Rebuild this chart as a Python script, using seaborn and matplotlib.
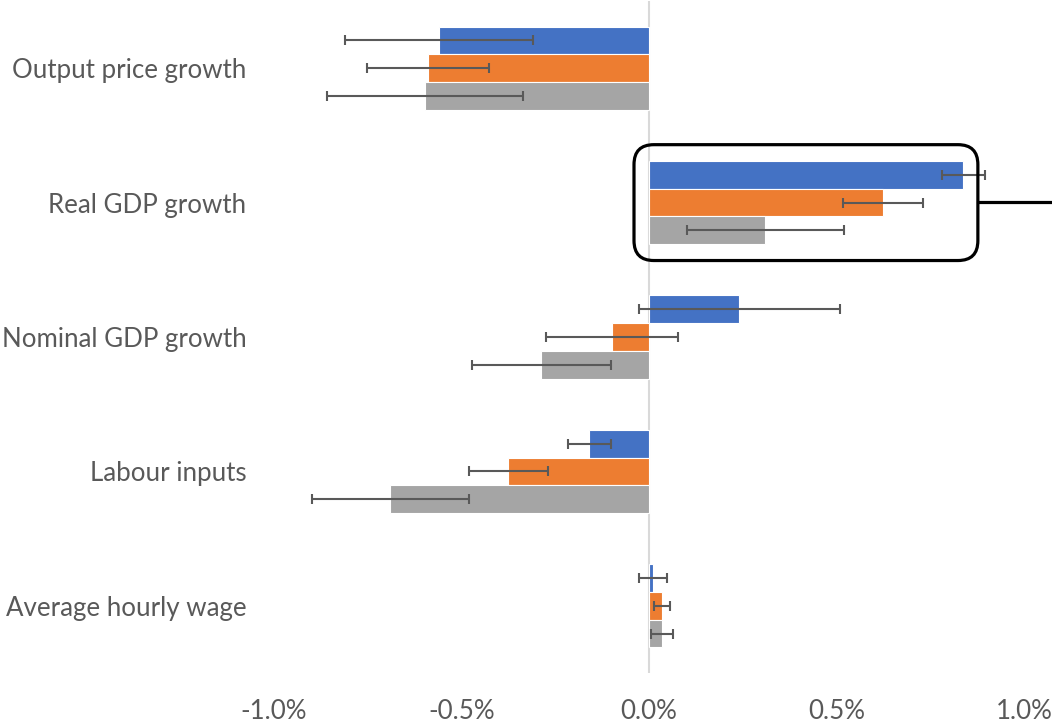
import numpy as np
import pandas as pd
import seaborn as sns
import matplotlib.pyplot as plt
from matplotlib.patches import FancyBboxPatch
from matplotlib.lines import Line2D
from matplotlib.ticker import FuncFormatter

categories = ['Output price growth', 'Real GDP growth', 'Nominal GDP growth',
              'Labour inputs', 'Average hourly wage']
series = ['Series 1', 'Series 2', 'Series 3']

# values in percent
s1_values = [-0.56, 0.838, 0.241, -0.159, 0.01]
s2_values = [-0.59, 0.624, -0.099, -0.375, 0.035]
s3_values = [-0.597, 0.31, -0.287, -0.69, 0.035]

s1_err = [0.25, 0.057, 0.268, 0.058, 0.037]
s2_err = [0.163, 0.107, 0.176, 0.105, 0.021]
s3_err = [0.262, 0.21, 0.186, 0.21, 0.03]

colors = ['#4472C4', '#ED7D31', '#A5A5A5']
text_color = '#595959'

df = pd.DataFrame({
    'category': categories * 3,
    'series': np.repeat(series, len(categories)),
    'value': s1_values + s2_values + s3_values,
    'err': s1_err + s2_err + s3_err,
})

sns.set_style('white')
plt.rcParams['font.family'] = ['Lato', 'DejaVu Sans']

fig = plt.figure(figsize=(10.52, 7.24), dpi=100)
ax = fig.add_axes([274 / 1052, 51 / 724, 750 / 1052, 672 / 724])

sns.barplot(data=df, y='category', x='value', hue='series', order=categories,
            hue_order=series, palette=colors, orient='h', width=0.62,
            errorbar=None, legend=False, linewidth=0.8, edgecolor='white',
            saturation=1, ax=ax, zorder=2)

# error bars placed on the bar centres
for bars, (name, grp) in zip(ax.containers, df.groupby('series', sort=False)):
    ys = [b.get_y() + b.get_height() / 2 for b in bars]
    ax.errorbar(grp['value'].values, ys, xerr=grp['err'].values, fmt='none',
                ecolor=text_color, elinewidth=1.5, capsize=3.6, capthick=1.5,
                zorder=3)

ax.axvline(0, color='#D9D9D9', linewidth=1.5, zorder=1)

ax.set_xlim(-1.0, 1.0)
ax.set_ylim(len(categories) - 0.5, -0.5)
ax.set_xticks([-1.0, -0.5, 0.0, 0.5, 1.0])
ax.xaxis.set_major_formatter(FuncFormatter(lambda v, p: f'{v:.1f}%'))
ax.set_xlabel('')
ax.set_ylabel('')
ax.tick_params(axis='both', length=0, labelsize=18.6, labelcolor=text_color)
ax.tick_params(axis='y', pad=20)
ax.tick_params(axis='x', pad=19)
for s in ax.spines.values():
    s.set_visible(False)

# highlight box around Real GDP growth
box = FancyBboxPatch((-0.04, 0.569), 0.917, 0.862,
                     boxstyle='round,pad=0,rounding_size=0.053',
                     mutation_aspect=2.79, fill=False, edgecolor='black',
                     linewidth=2.3, clip_on=False, zorder=4)
ax.add_patch(box)
ax.add_line(Line2D([0.877, 1.08], [0.995, 0.995], color='black', linewidth=2.3,
                   clip_on=False, zorder=4))

fig.savefig('out.png', dpi=100)
